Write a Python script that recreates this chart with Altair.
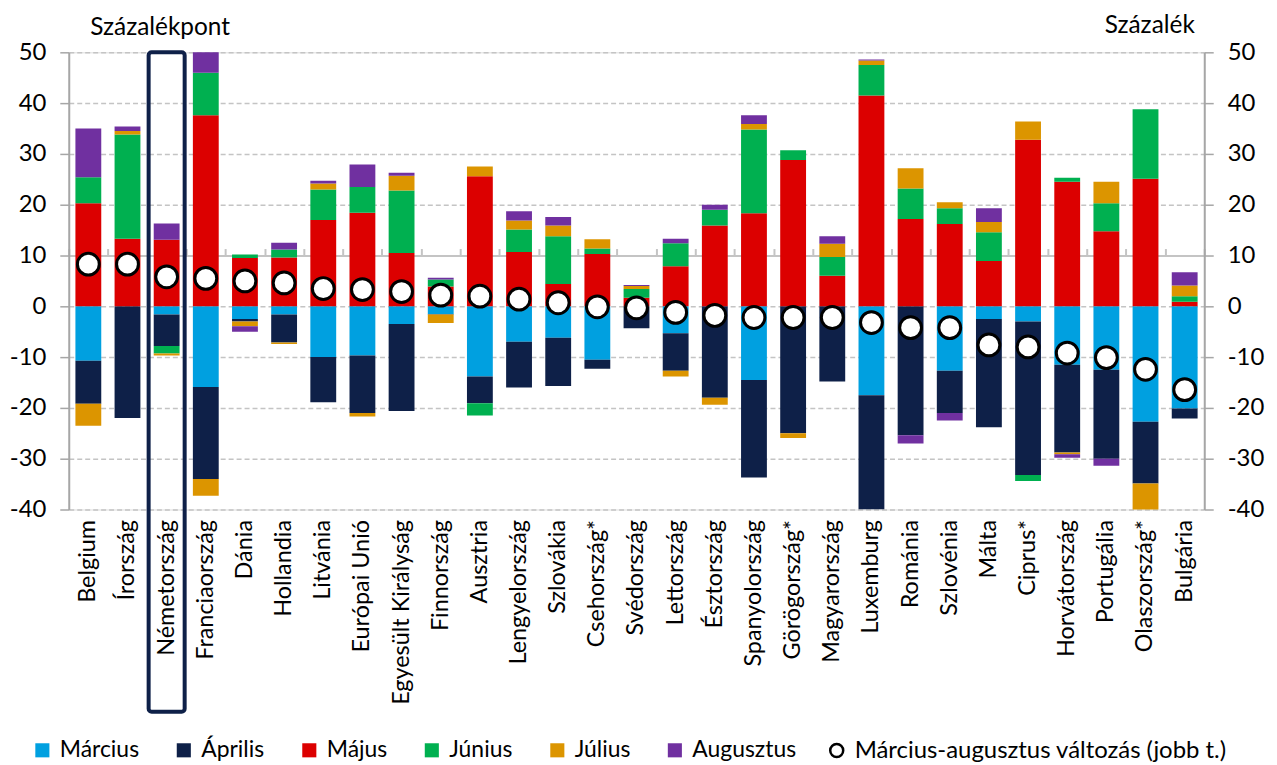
import altair as alt
import pandas as pd

countries = ["Belgium", "Írország", "Németország", "Franciaország", "Dánia", "Hollandia",
             "Litvánia", "Európai Unió", "Egyesült Királyság", "Finnország", "Ausztria",
             "Lengyelország", "Szlovákia", "Csehország*", "Svédország", "Lettország",
             "Észtország", "Spanyolország", "Görögország*", "Magyarország", "Luxemburg",
             "Románia", "Szlovénia", "Málta", "Ciprus*", "Horvátország", "Portugália",
             "Olaszország*", "Bulgária"]

marcius = [-10.7, 0.0, -1.6, -15.9, -2.5, -1.6, -10.0, -9.7, -3.5, -1.5, -13.8, -7.0, -6.2,
           -10.5, 0.0, -5.3, 0.0, -14.5, 0.0, 0.0, -17.5, 0.0, -12.7, -2.5, -3.0, -11.5,
           -12.5, -22.7, -20.1]
aprilis = [-8.5, -22.0, -6.2, -18.1, -0.5, -5.5, -8.9, -11.3, -17.1, -0.1, -5.3, -9.0, -9.5,
           -1.8, -4.3, -7.4, -18.0, -19.2, -25.0, -14.8, -22.5, -25.4, -8.3, -21.3, -30.2,
           -17.3, -17.5, -12.2, -2.0]
majus = [20.3, 13.3, 13.1, 37.6, 9.5, 9.6, 17.0, 18.4, 10.5, 3.9, 25.6, 10.7, 4.4, 10.3,
         1.7, 7.9, 15.9, 18.3, 28.8, 6.0, 41.5, 17.2, 16.2, 8.9, 32.8, 24.5, 14.8, 25.1, 0.9]
junius = [5.1, 20.5, -1.5, 8.4, 0.7, 1.6, 6.0, 5.1, 12.3, 1.4, -2.4, 4.4, 9.4, 1.1, 1.7, 4.5,
          3.1, 16.5, 1.9, 3.7, 6.0, 6.0, 3.1, 5.7, -1.2, 0.8, 5.5, 13.7, 1.1]
julius = [-4.3, 0.7, -0.4, -3.3, -0.9, -0.3, 1.2, -0.7, 2.9, -1.7, 1.9, 1.8, 2.1, 1.8, 0.6,
          -1.1, -1.4, 1.1, -0.9, 2.6, 0.9, 4.0, 1.2, 2.0, 3.6, -0.3, 4.2, -5.5, 2.1]
augusztus = [9.6, 0.9, 3.2, 4.2, -1.1, 1.3, 0.5, 4.4, 0.6, 0.3, 0.0, 1.8, 1.7, 0.0, 0.2, 0.9,
             1.0, 1.7, 0.0, 1.5, 0.2, -1.6, -1.5, 2.7, 0.0, -0.7, -1.4, 0.0, 2.6]
valtozas = [8.3, 8.3, 5.8, 5.5, 5.0, 4.6, 3.5, 3.3, 2.9, 2.2, 2.0, 1.4, 0.7, -0.1, -0.3,
            -1.2, -1.8, -2.2, -2.2, -2.2, -3.2, -4.2, -4.2, -7.6, -8.0, -9.2, -10.1, -12.4,
            -16.4]

months = ["Március", "Április", "Május", "Június", "Július", "Augusztus"]
month_colors = ["#00a0e0", "#0e2048", "#dc0000", "#00b050", "#dc9500", "#7030a0"]
series = [marcius, aprilis, majus, junius, julius, augusztus]
highlight = ["Németország"]
change_label = "Március-augusztus változás (jobb t.)"

rows = []
for mi, (m, vals) in enumerate(zip(months, series)):
    for c, v in zip(countries, vals):
        rows.append({"country": c, "month": m, "ord": mi, "value": v})
df = pd.DataFrame(rows)
df_change = pd.DataFrame({"country": countries, "change": valtozas, "lbl": change_label})
df_box = pd.DataFrame({"country": highlight})

FONT = "Lato"
GRAY = "#a6a6a6"
yvals = list(range(-40, 51, 10))
yscale = alt.Scale(domain=[-40, 50], nice=False, zero=False)
xscale = alt.Scale(paddingInner=0, paddingOuter=0)

bars = alt.Chart(df).mark_bar(clip=True, width=alt.RelativeBandSize(0.66)).encode(
    x=alt.X("country:N", sort=countries, scale=xscale,
            axis=alt.Axis(title=None, labelAngle=270, labelAlign="right",
                          labelBaseline="middle", labelFont=FONT, labelFontSize=23.5,
                          labelColor="black", labelPadding=10, domain=False, ticks=False,
                          labelLimit=0, grid=False)),
    y=alt.Y("value:Q", stack="zero", scale=yscale,
            axis=alt.Axis(orient="left", values=yvals, grid=True, gridDash=[5, 3],
                          gridColor="#c4c4c4", gridWidth=1.5, domainColor=GRAY,
                          domainWidth=2, tickColor=GRAY, tickSize=9, tickWidth=1.5,
                          labelFont=FONT, labelFontSize=24, labelColor="black",
                          labelPadding=14, labelExpr="toString(datum.value)",
                          title="Százalékpont", titleAngle=0, titleAlign="left",
                          titleBaseline="alphabetic", titleX=21, titleY=-18,
                          titleFont=FONT, titleFontSize=24.5, titleFontWeight="normal",
                          titleColor="black")),
    color=alt.Color("month:N", scale=alt.Scale(domain=months, range=month_colors),
                    legend=alt.Legend(title=None, orient="none", legendX=-38, legendY=689,
                                      direction="horizontal", symbolType="square",
                                      symbolSize=200, symbolStrokeWidth=0,
                                      labelFont=FONT, labelFontSize=23, labelColor="black",
                                      labelOffset=6, columnPadding=33)),
    order=alt.Order("ord:Q"),
)

points = alt.Chart(df_change).mark_point(filled=False, fill="white",
                                         strokeWidth=3, size=480, opacity=1).encode(
    x=alt.X("country:N", sort=countries, scale=xscale,
            axis=alt.Axis(title=None, labels=False, offset=-204, tickBand="extent",
                          tickSize=7, tickColor="#c4c4c4", tickWidth=2,
                          domainColor="#c4c4c4", domainWidth=2, grid=False)),
    y=alt.Y("change:Q", scale=yscale,
            axis=alt.Axis(orient="right", values=yvals, grid=False, domainColor=GRAY,
                          domainWidth=2, tickColor=GRAY, tickSize=9, tickWidth=1.5,
                          labelFont=FONT, labelFontSize=24, labelColor="black",
                          labelPadding=14, labelExpr="toString(datum.value)",
                          title="Százalék", titleAngle=0, titleAlign="right",
                          titleBaseline="alphabetic", titleX=-10, titleY=-20,
                          titleFont=FONT, titleFontSize=24.5, titleFontWeight="normal",
                          titleColor="black")),
    stroke=alt.Stroke("lbl:N", scale=alt.Scale(range=["black"]),
                      legend=alt.Legend(title=None, orient="none", legendX=759, legendY=689,
                                        symbolType="circle", symbolFillColor="white",
                                        symbolStrokeWidth=2.5, symbolSize=170,
                                        labelFont=FONT, labelFontSize=24,
                                        labelColor="black", labelOffset=6, labelLimit=0)),
)

box = alt.Chart(df_box).mark_bar(clip=False, fill="transparent", stroke="#0e2048",
                                 strokeWidth=4, cornerRadius=3,
                                 width=alt.RelativeBandSize(0.92)).encode(
    x=alt.X("country:N", sort=countries, scale=xscale, axis=None),
    y=alt.value(0),
    y2=alt.value(662),
)

chart = alt.layer(bars, points, box).resolve_scale(
    x="shared", y="shared"
).resolve_axis(
    x="independent", y="independent"
).properties(
    width=1140, height=459,
    padding={"left": 1, "top": 3, "right": 5, "bottom": 0},
).configure_view(stroke=None).configure(font=FONT)

chart.save("out.html", embed_options={"renderer": "svg", "actions": False})
